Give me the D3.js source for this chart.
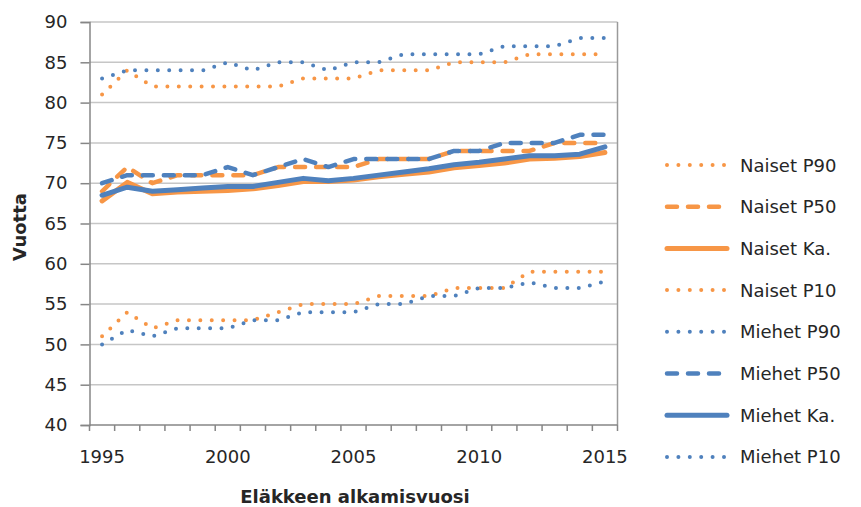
<!DOCTYPE html>
<html>
<head>
<meta charset="utf-8">
<script src="https://cdn.jsdelivr.net/npm/d3@7"></script>
<style>
  body { margin: 0; background: #fff; }
  svg { display: block; font-family: "DejaVu Sans", Verdana, sans-serif; }
</style>
</head>
<body>
<div id="chart"></div>
<script>
var years = [1995, 1996, 1997, 1998, 1999, 2000, 2001, 2002, 2003, 2004, 2005,
             2006, 2007, 2008, 2009, 2010, 2011, 2012, 2013, 2014, 2015];
var yearLabels = [1995, 2000, 2005, 2010, 2015];
var yTicks = [40, 45, 50, 55, 60, 65, 70, 75, 80, 85, 90];

var naisetP90 = [81, 84, 82, 82, 82, 82, 82, 82, 83, 83, 83, 84, 84, 84, 85, 85, 85, 86, 86, 86, 86];
var naisetP50 = [69, 72, 70, 71, 71, 71, 71, 72, 72, 72, 72, 73, 73, 73, 74, 74, 74, 74, 75, 75, 75];
var naisetKa  = [67.8, 70.1, 68.7, 68.9, 69.0, 69.1, 69.3, 69.7, 70.2, 70.2, 70.4,
                 70.8, 71.1, 71.4, 71.9, 72.2, 72.5, 73.0, 73.1, 73.3, 73.8];
var naisetP10 = [51, 54, 52, 53, 53, 53, 53, 54, 55, 55, 55, 56, 56, 56, 57, 57, 57, 59, 59, 59, 59];
var miehetP90 = [83, 84, 84, 84, 84, 85, 84, 85, 85, 84, 85, 85, 86, 86, 86, 86, 87, 87, 87, 88, 88];
var miehetP50 = [70, 71, 71, 71, 71, 72, 71, 72, 73, 72, 73, 73, 73, 73, 74, 74, 75, 75, 75, 76, 76];
var miehetKa  = [68.5, 69.5, 69.0, 69.2, 69.4, 69.6, 69.6, 70.1, 70.6, 70.3, 70.6,
                 71.0, 71.4, 71.8, 72.3, 72.6, 73.0, 73.4, 73.4, 73.6, 74.5];
var miehetP10 = [50, 51.8, 51, 52, 52, 52, 53, 53, 54, 54, 54, 55, 55, 56, 56, 57, 57, 57.7, 57, 57, 57.8];

var orange = "#F79646",
    blue = "#4F81BD";

// line styles
var styles = {
  dot:   { width: 4,   dash: "0,11.4", cap: "round" },
  dash:  { width: 4.5, dash: "10,11",  cap: "round" },
  solid: { width: 5,   dash: null,     cap: "round" }
};

var series = [
  { name: "Naiset P90", values: naisetP90, color: orange, style: "dot" },
  { name: "Naiset P50", values: naisetP50, color: orange, style: "dash" },
  { name: "Naiset Ka.", values: naisetKa,  color: orange, style: "solid" },
  { name: "Naiset P10", values: naisetP10, color: orange, style: "dot" },
  { name: "Miehet P90", values: miehetP90, color: blue,   style: "dot" },
  { name: "Miehet P50", values: miehetP50, color: blue,   style: "dash" },
  { name: "Miehet Ka.", values: miehetKa,  color: blue,   style: "solid" },
  { name: "Miehet P10", values: miehetP10, color: blue,   style: "dot" }
];

var width = 861, height = 507;
var plot = { left: 89.5, right: 617.5, top: 22, bottom: 425 };

var svg = d3.select("#chart").append("svg")
    .attr("width", width)
    .attr("height", height);

var x = d3.scaleBand()
    .domain(years)
    .range([plot.left, plot.right]);

var y = d3.scaleLinear()
    .domain([40, 90])
    .range([plot.bottom, plot.top]);

var cx = function(yr) { return x(yr) + x.bandwidth() / 2; };

// gridlines
svg.append("g").selectAll("line")
    .data(yTicks.filter(function(d) { return d > 40; }))
  .enter().append("line")
    .attr("x1", plot.left).attr("x2", plot.right)
    .attr("y1", function(d) { return y(d); })
    .attr("y2", function(d) { return y(d); })
    .attr("stroke", "#c6c6c6")
    .attr("stroke-width", 1.5);

// plot border (right side)
svg.append("line")
    .attr("x1", plot.right).attr("x2", plot.right)
    .attr("y1", plot.top).attr("y2", plot.bottom)
    .attr("stroke", "#9a9a9a")
    .attr("stroke-width", 1.5);

// y axis
var yAxis = svg.append("g")
    .attr("transform", "translate(" + plot.left + ",0)")
    .call(d3.axisLeft(y).tickValues(yTicks).tickSize(9).tickPadding(13));

// x axis: ticks between categories
var edges = years.map(function(d) { return x(d); }).concat([plot.right]);
var xAxis = svg.append("g")
    .attr("transform", "translate(0," + plot.bottom + ")");
xAxis.append("line")
    .attr("x1", plot.left).attr("x2", plot.right)
    .attr("stroke", "#868686").attr("stroke-width", 1.5);
xAxis.selectAll("line.tick")
    .data(edges)
  .enter().append("line")
    .attr("class", "tick")
    .attr("x1", function(d) { return d; })
    .attr("x2", function(d) { return d; })
    .attr("y1", 0).attr("y2", 6)
    .attr("stroke", "#868686").attr("stroke-width", 1.5);
xAxis.selectAll("text")
    .data(yearLabels)
  .enter().append("text")
    .attr("x", function(d) { return cx(d); })
    .attr("y", 38)
    .attr("text-anchor", "middle")
    .attr("font-size", 18)
    .attr("fill", "#262626")
    .text(function(d) { return d; });

yAxis.select(".domain").attr("stroke", "#868686").attr("stroke-width", 1.5);
yAxis.selectAll(".tick line").attr("stroke", "#868686").attr("stroke-width", 1.5);
yAxis.selectAll(".tick text")
    .attr("font-size", 18)
    .attr("font-family", "DejaVu Sans, sans-serif")
    .attr("fill", "#262626");

// axis titles
svg.append("text")
    .attr("transform", "translate(26,227) rotate(-90)")
    .attr("text-anchor", "middle")
    .attr("font-size", 18)
    .attr("font-weight", "bold")
    .attr("fill", "#262626")
    .text("Vuotta");

svg.append("text")
    .attr("x", 355)
    .attr("y", 503)
    .attr("text-anchor", "middle")
    .attr("font-size", 18)
    .attr("font-weight", "bold")
    .attr("fill", "#262626")
    .text("Eläkkeen alkamisvuosi");

// series lines
var line = d3.line()
    .x(function(d, i) { return cx(years[i]); })
    .y(function(d) { return y(d); });

function applyStyle(sel, s) {
  var st = styles[s.style];
  sel.attr("fill", "none")
     .attr("stroke", s.color)
     .attr("stroke-width", st.width)
     .attr("stroke-linecap", st.cap)
     .attr("stroke-linejoin", "round")
     .attr("stroke-dasharray", st.dash);
}

svg.append("g").selectAll("path")
    .data(series)
  .enter().append("path")
    .attr("d", function(d) { return line(d.values); })
    .each(function(d) { applyStyle(d3.select(this), d); });

// legend
var legend = svg.append("g")
    .attr("transform", "translate(667,165)");

var item = legend.selectAll("g")
    .data(series)
  .enter().append("g")
    .attr("transform", function(d, i) { return "translate(0," + (i * 41.7) + ")"; });

item.append("line")
    .attr("x1", 0).attr("x2", 60)
    .each(function(d) { applyStyle(d3.select(this), d); });

item.append("text")
    .attr("x", 73)
    .attr("y", 6.5)
    .attr("font-size", 18)
    .attr("fill", "#262626")
    .text(function(d) { return d.name; });
</script>
</body>
</html>
